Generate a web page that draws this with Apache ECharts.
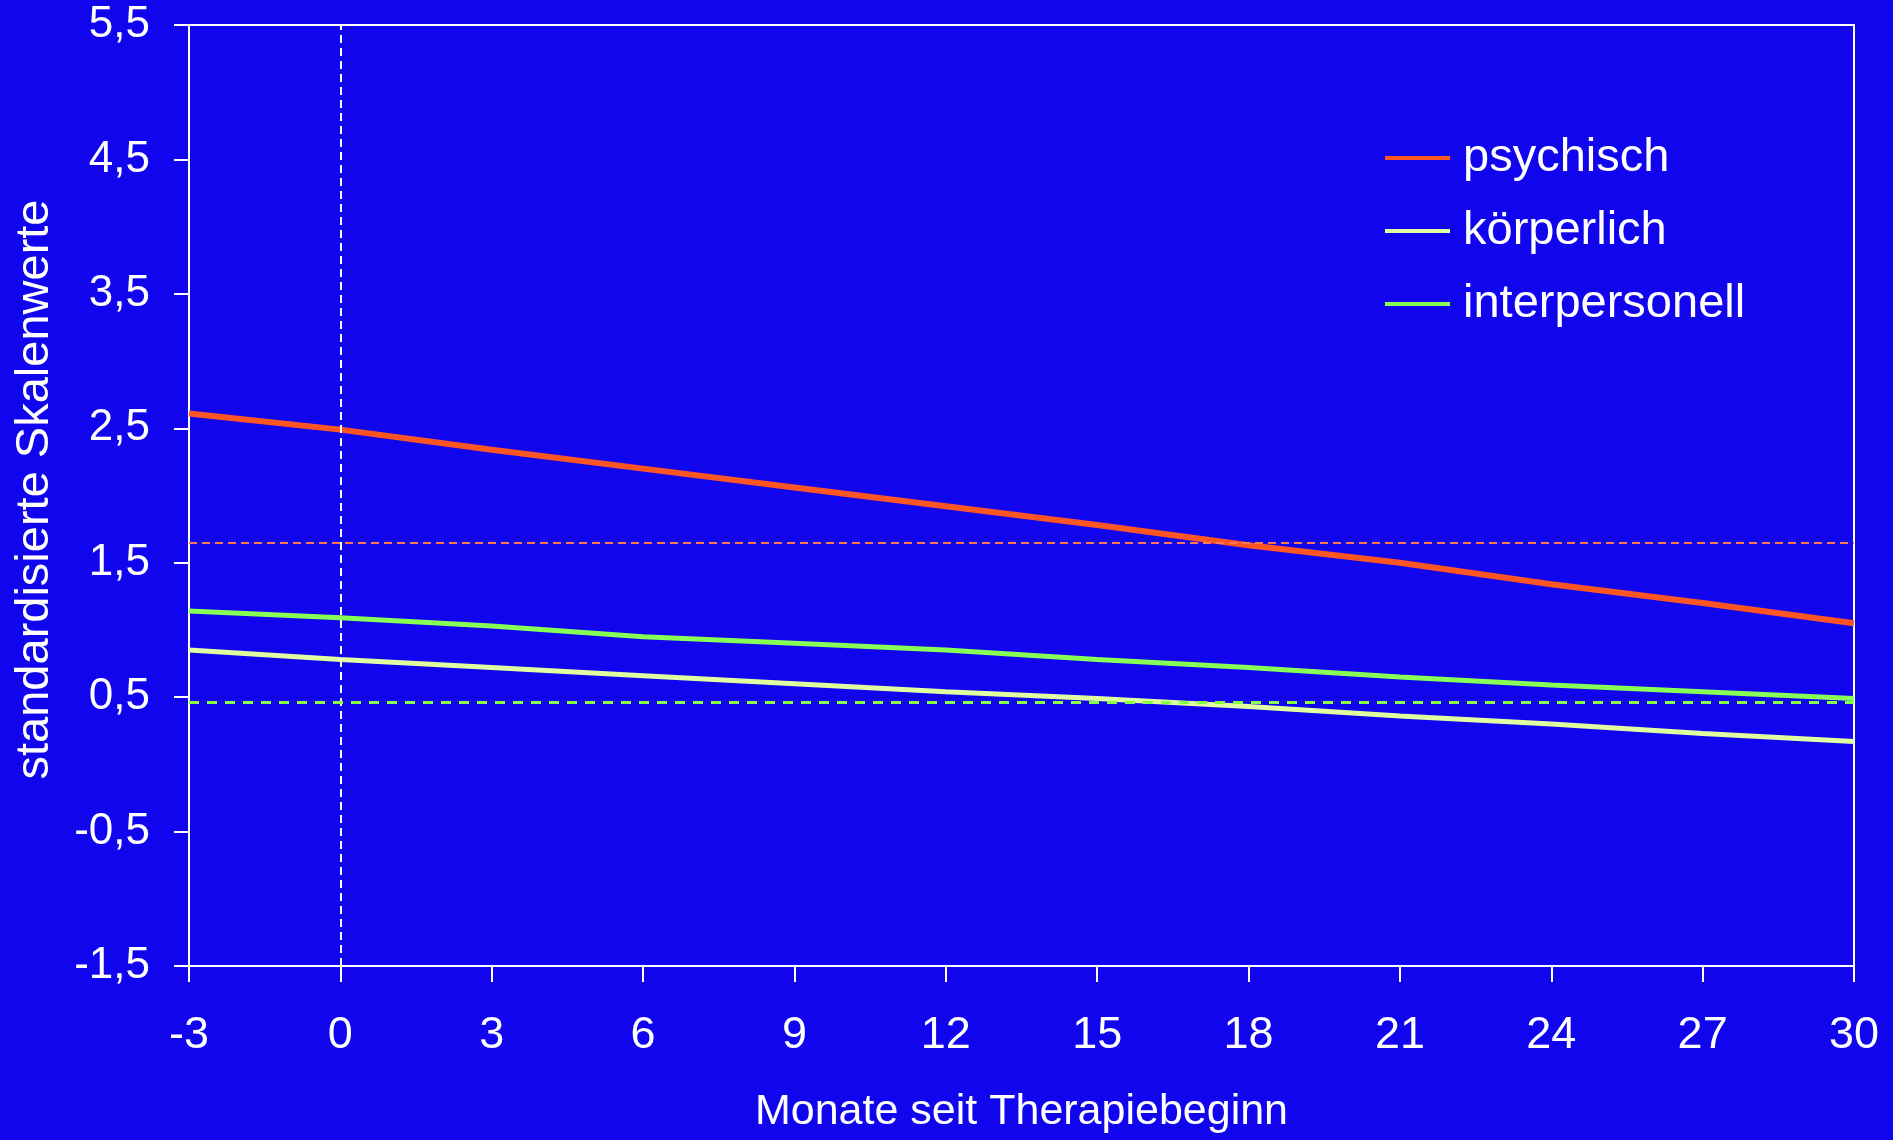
<!DOCTYPE html>
<html>
<head>
<meta charset="utf-8">
<script src="https://cdn.jsdelivr.net/npm/echarts@6/dist/echarts.min.js"></script>
<style>
html,body{margin:0;padding:0;background:#1105EE;}
#chart{width:1893px;height:1140px;}
</style>
</head>
<body>
<div id="chart"></div>
<script>
// Data
const months = [-3, 0, 3, 6, 9, 12, 15, 18, 21, 24, 27, 30];
const psychisch = [2.61, 2.49, 2.34, 2.20, 2.06, 1.92, 1.78, 1.63, 1.50, 1.34, 1.20, 1.05];
const koerperlich = [0.85, 0.78, 0.72, 0.66, 0.60, 0.54, 0.49, 0.43, 0.36, 0.30, 0.23, 0.17];
const interpersonell = [1.14, 1.09, 1.03, 0.95, 0.90, 0.85, 0.78, 0.72, 0.65, 0.59, 0.54, 0.49];
const yTicks = [-1.5, -0.5, 0.5, 1.5, 2.5, 3.5, 4.5, 5.5];
const cutoffPsychisch = 1.65;
const cutoffOther = 0.455;
const therapyStart = 0;
const seriesNames = ['psychisch', 'körperlich', 'interpersonell'];

const FONT = 'Liberation Sans, Arial, sans-serif';
const pair = (vals) => months.map((m, i) => [m, vals[i]]);
const fmt = (v) => String(v).replace('.', ',');

const chart = echarts.init(document.getElementById('chart'), null, {renderer: 'canvas'});
chart.setOption({
  backgroundColor: '#1105EE',
  animation: false,
  grid: {
    left: 189, right: 39, top: 25, bottom: 174,
    show: true, borderColor: '#ffffff', borderWidth: 2, backgroundColor: 'transparent'
  },
  legend: {
    orient: 'vertical',
    left: 1380, top: 128,
    itemWidth: 65, itemHeight: 4, itemGap: 23,
    icon: 'rect',
    textStyle: {color: '#ffffff', fontSize: 47, fontFamily: FONT, lineHeight: 50, padding: [0, 0, 0, 8]},
    data: seriesNames
  },
  xAxis: {
    type: 'value', min: -3, max: 30, interval: 3,
    name: 'Monate seit Therapiebeginn', nameLocation: 'middle', nameGap: 125,
    nameTextStyle: {color: '#ffffff', fontSize: 43, fontFamily: FONT},
    axisLine: {show: true, onZero: false, lineStyle: {color: '#ffffff', width: 2}},
    axisTick: {show: true, inside: false, length: 16, lineStyle: {color: '#ffffff', width: 2}},
    axisLabel: {color: '#ffffff', fontSize: 45, fontFamily: FONT, margin: 47},
    splitLine: {show: false}
  },
  yAxis: {
    type: 'value', min: -1.5, max: 5.5, interval: 0.5,
    name: 'standardisierte Skalenwerte', nameLocation: 'middle', nameGap: 130,
    nameTextStyle: {color: '#ffffff', fontSize: 47, fontFamily: FONT, padding: [0, 0, 0, 12]},
    axisLine: {show: true, onZero: false, lineStyle: {color: '#ffffff', width: 2}},
    axisTick: {show: true, inside: false, length: 15, customValues: yTicks, lineStyle: {color: '#ffffff', width: 2}},
    axisLabel: {color: '#ffffff', fontSize: 44, fontFamily: FONT, margin: 39, customValues: yTicks, formatter: fmt},
    splitLine: {show: false}
  },
  series: [
    {
      name: seriesNames[0], type: 'line', data: pair(psychisch),
      symbol: 'none', color: '#FF5522',
      lineStyle: {color: '#FF5522', width: 6},
      markLine: {
        silent: true, symbol: 'none', label: {show: false},
        lineStyle: {color: '#FF7755', width: 2, type: [8, 5]},
        data: [{yAxis: cutoffPsychisch}]
      }
    },
    {
      name: seriesNames[1], type: 'line', data: pair(koerperlich),
      symbol: 'none', color: '#E0FFA0',
      lineStyle: {color: '#E0FFA0', width: 5},
      markLine: {
        silent: true, symbol: 'none', label: {show: false},
        lineStyle: {color: '#ffffff', width: 2, type: [8, 5]},
        data: [{xAxis: therapyStart}]
      }
    },
    {
      name: seriesNames[2], type: 'line', data: pair(interpersonell),
      symbol: 'none', color: '#88FF55',
      lineStyle: {color: '#88FF55', width: 5},
      markLine: {
        silent: true, symbol: 'none', label: {show: false},
        lineStyle: {color: '#88FF44', width: 3, type: [10, 8]},
        data: [{yAxis: cutoffOther}]
      }
    }
  ]
});
</script>
</body>
</html>
